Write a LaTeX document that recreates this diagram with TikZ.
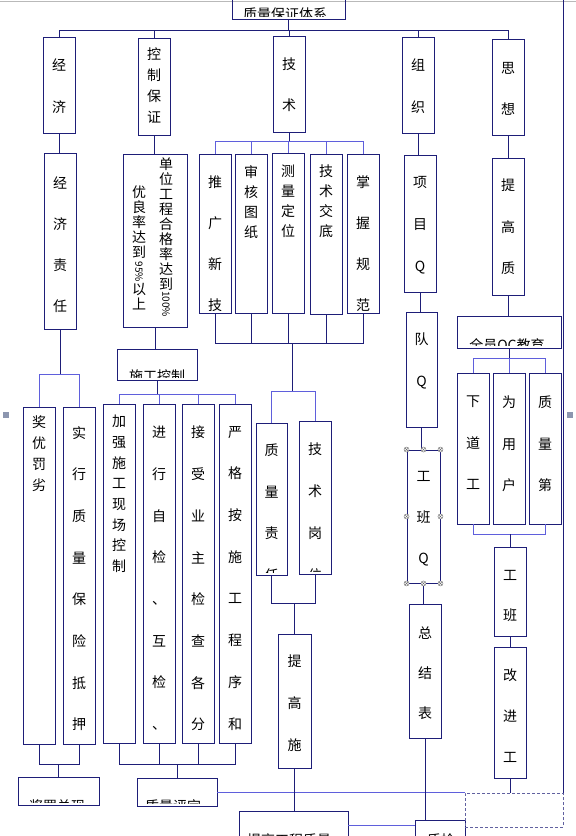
\documentclass[tikz,border=0pt]{standalone}
\usepackage{fontspec}
\setmainfont{Noto Sans CJK SC}

\definecolor{boxline}{RGB}{30,30,120}
\definecolor{busline}{RGB}{95,95,220}
\definecolor{handlegray}{RGB}{110,110,110}
\definecolor{selgray}{RGB}{140,150,175}

\tikzset{
  box/.style={draw=boxline, line width=0.9pt, inner sep=0pt},
  cell/.style 2 args={minimum width=#1, minimum height=#2},
  conn/.style={draw=boxline, line width=0.9pt},
  bus/.style={draw=busline, line width=1pt},
  vtext/.style={inner sep=0pt, align=center, font=\fontsize{14}{#1}\selectfont},
  digits/.style={rotate=-90, inner sep=0pt, font=\fontsize{10}{12}\selectfont},
  handle/.style={circle, draw=handlegray, fill=white, inner sep=0pt, minimum size=5pt,
    path picture={\draw[handlegray, line width=0.4pt]
      (path picture bounding box.north west) -- (path picture bounding box.south east)
      (path picture bounding box.north east) -- (path picture bounding box.south west);}},
}

% text of a box, cut at the box's inner margin
\newcommand{\boxtext}[5]{%
  \begin{scope}
    \clip ([shift={(1pt,3pt)}]#1.south west) rectangle ([shift={(-1pt,-3pt)}]#1.north east);
    \node[vtext=#4, anchor=north] (#1-t) at (#2,#3) {#5};
  \end{scope}}

\begin{document}
\begin{tikzpicture}[x=1pt,y=-1pt]
  \fill[white] (0,0) rectangle (576,836);
  \useasboundingbox (0,0) rectangle (576,836);

  % page edges
  \draw[gray!55, line width=1pt] (0,1) -- (576,1);
  \draw[conn] (563,-2) -- (563,793);

  % bus levels
  \coordinate (bus-top) at (0,30);
  \coordinate (bus-js) at (0,141);
  \coordinate (bus-tech) at (292,343);
  \coordinate (bus-qy) at (0,358);
  \coordinate (bus-jjzr) at (0,374);
  \coordinate (bus-gw) at (292,391);
  \coordinate (bus-sgkz) at (0,394);
  \coordinate (bus-ly) at (0,534);
  \coordinate (bus-zr) at (0,603);
  \coordinate (bus-bl) at (0,764);
  \coordinate (bus-b3) at (0,825);

  % boxes
  \node[box, cell={113pt}{22pt}] (zl) at (288.5,8) {};
  \node[box, cell={32pt}{96pt}] (jj) at (59,85) {};
  \node[box, cell={32pt}{97pt}] (kz) at (154,86.5) {};
  \node[box, cell={32pt}{96pt}] (js) at (289,84) {};
  \node[box, cell={32pt}{96pt}] (zz) at (418,85) {};
  \node[box, cell={32pt}{96pt}] (sx) at (508,87) {};

  \node[box, cell={32pt}{176pt}] (jjzr) at (60,241) {};
  \node[box, cell={64pt}{173pt}] (dw) at (155,240.5) {};
  \node[box, cell={80pt}{31pt}] (sgkz) at (157,364.5) {};
  \node[box, cell={32pt}{159pt}] (tg) at (215,233.5) {};
  \node[box, cell={32pt}{159pt}] (sh) at (251,233.5) {};
  \node[box, cell={32pt}{160pt}] (cl) at (288,233) {};
  \node[box, cell={32pt}{160pt}] (jd) at (326,234) {};
  \node[box, cell={32pt}{159pt}] (zw) at (363,233.5) {};
  \node[box, cell={32pt}{137pt}] (xm) at (420,223.5) {};
  \node[box, cell={32pt}{137pt}] (tgz) at (508,226.5) {};

  \node[box, cell={31pt}{115pt}] (dq) at (421.5,369.5) {};
  \node[box, cell={104pt}{32pt}] (qy) at (509,332) {};
  \node[box, cell={32pt}{151pt}] (xd) at (473,448.5) {};
  \node[box, cell={32pt}{151pt}] (wy) at (509,448.5) {};
  \node[box, cell={32pt}{151pt}] (zd) at (545,448.5) {};
  \node[box, cell={32pt}{89pt}] (gb) at (510,591.5) {};
  \node[box, cell={32pt}{131pt}] (gj) at (510,712.5) {};
  \node[box, cell={33pt}{133pt}] (gbq) at (423.5,516.5) {};
  \node[box, cell={32pt}{134pt}] (zjb) at (425,671) {};

  \node[box, cell={32pt}{337pt}] (jyfl) at (39,575.5) {};
  \node[box, cell={32pt}{337pt}] (sx2) at (79,575.5) {};
  \node[box, cell={32pt}{339pt}] (jq) at (119,573.5) {};
  \node[box, cell={32pt}{339pt}] (jx) at (159,573.5) {};
  \node[box, cell={32pt}{339pt}] (js2) at (198,573.5) {};
  \node[box, cell={32pt}{339pt}] (yg) at (235,573.5) {};
  \node[box, cell={31pt}{152pt}] (zlzr) at (271.5,499) {};
  \node[box, cell={32pt}{153pt}] (jsgw) at (315,497.5) {};
  \node[box, cell={33pt}{134pt}] (tgs) at (294.5,701) {};

  \node[box, cell={81pt}{28pt}] (b1) at (58.5,791) {};
  \node[box, cell={80pt}{28pt}] (b2) at (177,792) {};
  \node[box, cell={109pt}{40pt}] (b3) at (293.5,831) {};
  \node[box, cell={50pt}{30pt}] (b4) at (440,835) {};
  \node[draw=boxline!70, line width=0.6pt, dash pattern=on 3pt off 2pt, inner sep=0pt,
    cell={98pt}{34pt}] (db) at (514,810) {};

  % texts
  \boxtext{zl}{285}{8}{16}{质量保证体系}
  \boxtext{jj}{59}{59}{42}{经\\济}
  \boxtext{kz}{154}{48}{21}{控\\制\\保\\证}
  \boxtext{js}{289}{58}{41}{技\\术}
  \boxtext{zz}{418}{59}{42}{组\\织}
  \boxtext{sx}{508}{62}{41}{思\\想}
  \boxtext{jjzr}{60}{177}{41}{经\\济\\责\\任}
  \node[vtext=15, anchor=north] (dw-a) at (166,158) {单\\位\\工\\程\\合\\格\\率\\达\\到};
  \node[digits] (dw-b) at (166,304) {100\%};
  \node[vtext=15, anchor=north] (dw-c) at (139,186) {优\\良\\率\\达\\到};
  \node[digits] (dw-d) at (139,272) {95\%};
  \node[vtext=15, anchor=north] (dw-e) at (139,283) {以\\上};
  \boxtext{sgkz}{157}{370}{16}{施工控制}
  \boxtext{tg}{215}{176}{40.7}{推\\广\\新\\技}
  \boxtext{sh}{251}{165}{20}{审\\核\\图\\纸}
  \boxtext{cl}{288}{165}{20}{测\\量\\定\\位}
  \boxtext{jd}{326}{165}{20}{技\\术\\交\\底}
  \boxtext{zw}{363}{176}{40.7}{掌\\握\\规\\范}
  \boxtext{xm}{420}{176}{42}{项\\目\\Q}
  \boxtext{tgz}{508}{179}{41.5}{提\\高\\质}
  \boxtext{dq}{421.5}{333}{42}{队\\Q\\︵}
  \boxtext{qy}{507}{338}{16}{全员QC教育}
  \boxtext{xd}{473}{396}{41.5}{下\\道\\工}
  \boxtext{wy}{509}{396}{41.5}{为\\用\\户}
  \boxtext{zd}{545}{396}{41.5}{质\\量\\第}
  \boxtext{gb}{510}{570}{40}{工\\班}
  \boxtext{gj}{510}{669}{41}{改\\进\\工}
  \boxtext{gbq}{423.5}{471}{41}{工\\班\\Q}
  \boxtext{zjb}{425}{627}{40}{总\\结\\表}
  \boxtext{jyfl}{39}{415}{21}{奖\\优\\罚\\劣}
  \boxtext{sx2}{79}{426}{41.7}{实\\行\\质\\量\\保\\险\\抵\\押}
  \boxtext{jq}{119}{415}{20.7}{加\\强\\施\\工\\现\\场\\控\\制}
  \boxtext{jx}{159}{426}{41.7}{进\\行\\自\\检\\、\\互\\检\\、}
  \boxtext{js2}{198}{426}{41.7}{接\\受\\业\\主\\检\\查\\各\\分}
  \boxtext{yg}{235}{426}{41.7}{严\\格\\按\\施\\工\\程\\序\\和}
  \boxtext{zlzr}{271.5}{444}{41.5}{质\\量\\责\\任}
  \boxtext{jsgw}{315}{443}{41.7}{技\\术\\岗\\位}
  \boxtext{tgs}{294.5}{655}{42}{提\\高\\施}
  \boxtext{b1}{57}{799}{16}{奖罚兑现}
  \boxtext{b2}{173}{799}{16}{质量评定}
  \boxtext{b3}{289}{833}{16}{提高工程质量}
  \boxtext{b4}{441}{833}{16}{质检}

  % top level
  \draw[conn] (zl.south) -- (zl.south |- bus-top);
  \draw[conn] (jj.north) |- (sx.north |- bus-top) -- (sx.north);
  \foreach \n in {kz,js,zz} \draw[conn] (\n.north) -- (\n.north |- bus-top);

  % economy branch
  \draw[conn] (jj.south) -- (jj.south |- jjzr.north);
  \draw[conn] (jjzr.south) -- (jjzr.south |- bus-jjzr);
  \draw[bus] (jyfl.north) |- (sx2.north |- bus-jjzr) -- (sx2.north);
  \draw[conn] (jyfl.south) |- (sx2.south |- bus-bl) -- (sx2.south);
  \draw[conn] (b1.north) -- (b1.north |- bus-bl);

  % control branch
  \draw[conn] (kz.south) -- (kz.south |- dw.north);
  \draw[conn] (dw.south) -- (dw.south |- sgkz.north);
  \draw[conn] (sgkz.south) -- (sgkz.south |- bus-sgkz);
  \draw[bus] (jq.north) |- (yg.north |- bus-sgkz) -- (yg.north);
  \foreach \n in {jx,js2} \draw[bus] (\n.north) -- (\n.north |- bus-sgkz);
  \draw[conn] (jq.south) |- (yg.south |- bus-bl) -- (yg.south);
  \foreach \n in {jx,js2} \draw[conn] (\n.south) -- (\n.south |- bus-bl);
  \draw[conn] (b2.north) -- (b2.north |- bus-bl);
  \draw[bus] (b2.east) -- (b2.east -| db.west);

  % technique branch
  \draw[conn] (js.south) -- (js.south |- bus-js);
  \draw[bus] (tg.north) |- (zw.north |- bus-js) -- (zw.north);
  \foreach \n in {sh,cl,jd} \draw[bus] (\n.north) -- (\n.north |- bus-js);
  \draw[conn] (tg.south) |- (zw.south |- bus-tech) -- (zw.south);
  \foreach \n in {sh,cl,jd} \draw[conn] (\n.south) -- (\n.south |- bus-tech);
  \draw[conn] (bus-tech) -- (bus-gw);
  \draw[bus] (zlzr.north) |- (jsgw.north |- bus-gw) -- (jsgw.north);
  \draw[conn] (zlzr.south) |- (jsgw.south |- bus-zr) -- (jsgw.south);
  \draw[conn] (tgs.north) -- (tgs.north |- bus-zr);
  \draw[conn] (tgs.south) -- (tgs.south |- b3.north);
  \draw[bus] (b3.east |- bus-b3) -- (b4.west |- bus-b3);

  % organisation branch
  \draw[conn] (zz.south) -- (zz.south |- xm.north);
  \draw[conn] (xm.south) -- (xm.south |- dq.north);
  \draw[conn] (dq.south) -- (dq.south |- gbq.north);
  \draw[conn] (gbq.south) -- (gbq.south |- zjb.north);
  \draw[conn] (zjb.south) -- (zjb.south |- b4.north);

  % thought branch
  \draw[conn] (sx.south) -- (sx.south |- tgz.north);
  \draw[conn] (tgz.south) -- (tgz.south |- qy.north);
  \draw[conn] (qy.south) -- (qy.south |- bus-qy);
  \draw[bus] (xd.north) |- (zd.north |- bus-qy) -- (zd.north);
  \draw[bus] (wy.north) -- (wy.north |- bus-qy);
  \draw[bus] (xd.south) |- (zd.south |- bus-ly) -- (zd.south);
  \draw[conn] (gb.north) -- (gb.north |- bus-ly);
  \draw[conn] (gb.south) -- (gb.south |- gj.north);
  \draw[conn] (gj.south) -- (gj.south |- db.north);

  % selection marks
  \foreach \a [count=\i] in {north west,north,north east,west,east,south west,south,south east}
    \node[handle] (hd\i) at (gbq.\a) {};
  \node[fill=selgray, inner sep=0pt, minimum size=6pt] (sel-l) at (6,415) {};
  \node[fill=selgray, inner sep=0pt, minimum size=6pt] (sel-r) at (570,415) {};
\end{tikzpicture}
\end{document}
